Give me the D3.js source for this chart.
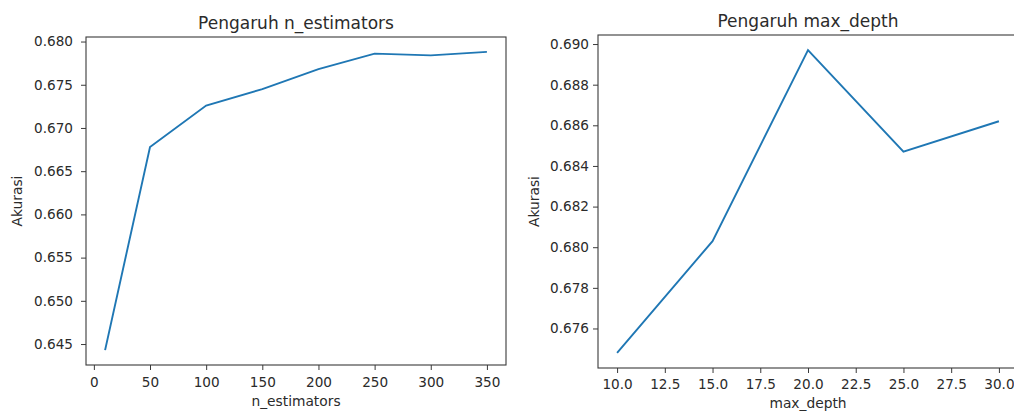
<!DOCTYPE html>
<html>
<head>
<meta charset="utf-8">
<script src="https://cdn.jsdelivr.net/npm/d3@7"></script>
<style>
  body { margin: 0; background: #fff; }
  svg { display: block; font-family: "DejaVu Sans", sans-serif; }
</style>
</head>
<body>
<svg id="chart" width="1014" height="411"></svg>
<script>
// Data
const nEstimators = [10, 50, 100, 150, 200, 250, 300, 350];
const accEstimators = [0.6443, 0.6678, 0.6726, 0.6745, 0.6768, 0.6786, 0.6784, 0.6788];

const maxDepths = [10, 15, 20, 25, 30];
const accDepth = [0.6748, 0.6803, 0.6897, 0.6847, 0.6862];

// Tick labels
const estXTicks = [0, 50, 100, 150, 200, 250, 300, 350];
const estYTicks = [0.645, 0.650, 0.655, 0.660, 0.665, 0.670, 0.675, 0.680];
const depthXTicks = [10, 12.5, 15, 17.5, 20, 22.5, 25, 27.5, 30];
const depthYTicks = [0.676, 0.678, 0.680, 0.682, 0.684, 0.686, 0.688, 0.690];

const svg = d3.select("#chart");
const textColor = "#2b2b2b";
const spineColor = "#3a3a3a";
const tickFont = "13.6px";
const labelFont = "13.8px";

// matplotlib-like 5% padding around the data range
function padded(values) {
    const [lo, hi] = d3.extent(values);
    const m = (hi - lo) * 0.05;
    return [lo - m, hi + m];
}

function drawPanel(opt) {
    const g = svg.append("g").attr("transform", `translate(${opt.left}, ${opt.top})`);

    const x = d3.scaleLinear().domain(padded(opt.xs)).range([0, opt.width]);
    const y = d3.scaleLinear().domain(padded(opt.ys)).range([opt.height, 0]);

    // x axis
    const xAxis = g.append("g")
        .attr("transform", `translate(0, ${opt.height})`)
        .call(d3.axisBottom(x).tickValues(opt.xTicks).tickFormat(opt.xFormat).tickSize(5).tickPadding(opt.xPad));
    // y axis
    const yAxis = g.append("g")
        .call(d3.axisLeft(y).tickValues(opt.yTicks).tickFormat(d3.format(".3f")).tickSize(5).tickPadding(opt.yPad));

    [xAxis, yAxis].forEach(a => {
        a.select(".domain").remove();
        a.selectAll(".tick line").attr("stroke", spineColor).attr("stroke-width", 1);
        a.selectAll(".tick text")
            .attr("fill", textColor)
            .attr("font-size", tickFont)
            .attr("font-family", "DejaVu Sans, sans-serif");
    });

    // the line
    const line = d3.line()
        .x((d, i) => x(opt.xs[i]))
        .y(d => y(d));

    g.append("path")
        .datum(opt.ys)
        .attr("fill", "none")
        .attr("stroke", "#1f77b4")
        .attr("stroke-width", 1.9)
        .attr("d", line);

    // frame (spines)
    g.append("rect")
        .attr("width", opt.width)
        .attr("height", opt.height)
        .attr("fill", "none")
        .attr("stroke", spineColor)
        .attr("stroke-width", 1.1);

    // title
    g.append("text")
        .attr("x", opt.width / 2)
        .attr("y", -8)
        .attr("text-anchor", "middle")
        .attr("fill", textColor)
        .attr("font-size", "17px")
        .text(opt.title);

    // x label
    g.append("text")
        .attr("x", opt.width / 2)
        .attr("y", opt.height + opt.xLabelY)
        .attr("text-anchor", "middle")
        .attr("fill", textColor)
        .attr("font-size", labelFont)
        .text(opt.xLabel);

    // y label
    g.append("text")
        .attr("transform", `translate(${opt.yLabelX}, ${opt.height / 2}) rotate(-90)`)
        .attr("text-anchor", "middle")
        .attr("fill", textColor)
        .attr("font-size", labelFont)
        .text("Akurasi");
}

drawPanel({
    left: 86, top: 37, width: 420, height: 328,
    xs: nEstimators, ys: accEstimators,
    xTicks: estXTicks, yTicks: estYTicks,
    xFormat: d3.format("d"),
    xPad: 7, yPad: 8,
    title: "Pengaruh n_estimators",
    xLabel: "n_estimators", xLabelY: 41,
    yLabelX: -64
});

drawPanel({
    left: 598, top: 35, width: 420, height: 333,
    xs: maxDepths, ys: accDepth,
    xTicks: depthXTicks, yTicks: depthYTicks,
    xFormat: d3.format(".1f"),
    xPad: 6, yPad: 4,
    title: "Pengaruh max_depth",
    xLabel: "max_depth", xLabelY: 40,
    yLabelX: -59
});
</script>
</body>
</html>
